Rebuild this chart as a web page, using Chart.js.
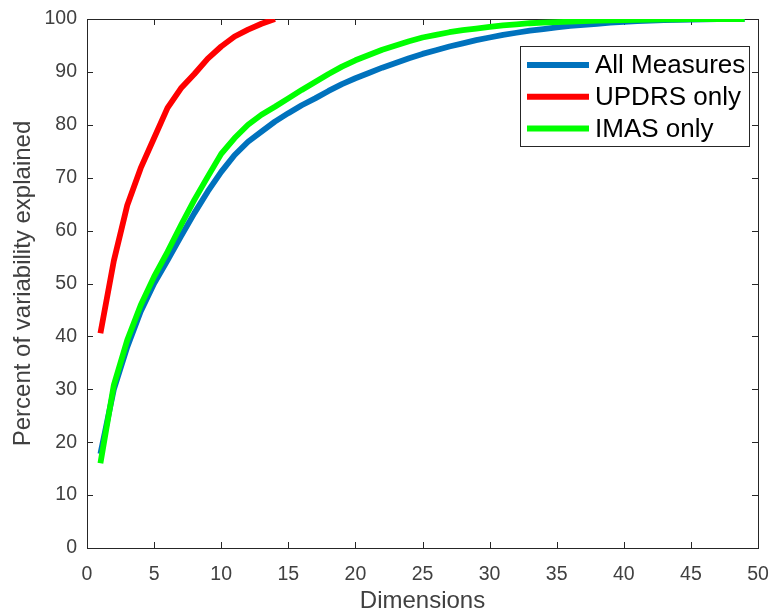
<!DOCTYPE html>
<html>
<head>
<meta charset="utf-8">
<script src="https://cdn.jsdelivr.net/npm/chart.js@4"></script>
<style>
  html, body { margin: 0; padding: 0; background: #fff; }
  #wrap { width: 771px; height: 611px; }
</style>
</head>
<body>
<div id="wrap"><canvas id="pcaChart" width="771" height="611"></canvas></div>
<script>
// dimensions (x) for each series
const dimsAll = [1,2,3,4,5,6,7,8,9,10,11,12,13,14,15,16,17,18,19,20,21,22,23,24,25,
                 26,27,28,29,30,31,32,33,34,35,36,37,38,39,40,41,42,43,44,45,46,47,48,49];
const dimsUpdrs = [1,2,3,4,5,6,7,8,9,10,11,12,13,14];
const dimsImas = dimsAll;

// cumulative percent of variability explained
const allMeasures = [17.8,30.0,38.0,44.7,50.0,54.4,58.9,63.3,67.4,71.1,74.3,76.8,78.7,80.6,82.2,
                     83.7,85.0,86.4,87.7,88.8,89.8,90.8,91.7,92.6,93.4,94.1,94.8,95.4,96.0,96.5,
                     97.0,97.4,97.8,98.1,98.4,98.7,98.9,99.1,99.3,99.45,99.6,99.7,99.8,99.85,99.9,
                     99.95,100,100,100];
const updrsOnly = [40.6,54.3,64.8,71.8,77.5,83.2,86.9,89.6,92.5,94.8,96.7,98.0,99.1,100];
const imasOnly = [16.0,30.8,39.3,45.9,51.3,56.0,61.0,65.8,70.2,74.5,77.5,80.0,81.9,83.4,85.0,
                  86.6,88.1,89.6,91.0,92.2,93.2,94.2,95.0,95.8,96.5,97.0,97.5,97.9,98.2,98.5,
                  98.8,99.0,99.2,99.3,99.4,99.5,99.6,99.7,99.75,99.8,99.85,99.9,99.92,99.95,99.97,
                  99.98,100,100,100];

const seriesNames = ['All Measures', 'UPDRS only', 'IMAS only'];
const seriesColors = ['#0072BD', '#FF0000', '#00FF00'];

const xTicks = [0,5,10,15,20,25,30,35,40,45,50];
const yTicks = [0,10,20,30,40,50,60,70,80,90,100];

const FONT = '"Liberation Sans", Arial, Helvetica, sans-serif';
const AXIS_COLOR = '#262626';

const toPoints = (xs, ys) => xs.map((x, i) => ({x: x, y: ys[i]})).filter(p => p.y !== undefined);

// box + inward ticks on all four sides, MATLAB style
const framePlugin = {
    id: 'frame',
    beforeDatasetsDraw(chart) {
        const {ctx, chartArea: a, scales} = chart;
        const len = 6;
        ctx.save();
        ctx.strokeStyle = AXIS_COLOR;
        ctx.lineWidth = 1;
        ctx.beginPath();
        xTicks.forEach(v => {
            const px = Math.round(scales.x.getPixelForValue(v)) + 0.5;
            ctx.moveTo(px, a.bottom); ctx.lineTo(px, a.bottom - len);
            ctx.moveTo(px, a.top); ctx.lineTo(px, a.top + len);
        });
        yTicks.forEach(v => {
            const py = Math.round(scales.y.getPixelForValue(v)) + 0.5;
            ctx.moveTo(a.left, py); ctx.lineTo(a.left + len, py);
            ctx.moveTo(a.right, py); ctx.lineTo(a.right - len, py);
        });
        ctx.stroke();
        ctx.strokeRect(Math.round(a.left) + 0.5, Math.round(a.top) + 0.5,
                       Math.round(a.right - a.left), Math.round(a.bottom - a.top));
        ctx.restore();
    }
};

const legendPlugin = {
    id: 'boxLegend',
    afterDraw(chart) {
        const {ctx, chartArea: a} = chart;
        const boxW = 229, boxH = 100;
        const x0 = a.right - 9 - boxW;
        const y0 = a.top + 27;
        ctx.save();
        ctx.fillStyle = '#fff';
        ctx.fillRect(x0, y0, boxW, boxH);
        ctx.strokeStyle = AXIS_COLOR;
        ctx.lineWidth = 1;
        ctx.strokeRect(Math.round(x0) + 0.5, Math.round(y0) + 0.5, boxW, boxH);
        ctx.font = '26px ' + FONT;
        ctx.textBaseline = 'middle';
        chart.data.datasets.forEach((ds, i) => {
            const cy = y0 + 19 + i * 31.7;
            ctx.strokeStyle = ds.borderColor;
            ctx.lineWidth = 6;
            ctx.beginPath();
            ctx.moveTo(x0 + 7, cy);
            ctx.lineTo(x0 + 69, cy);
            ctx.stroke();
            ctx.fillStyle = '#000';
            ctx.fillText(ds.label, x0 + 75, cy + 1);
        });
        ctx.restore();
    }
};

const context = document.getElementById('pcaChart');
const chart = new Chart(context, {
    type: 'line',
    data: {
        datasets: [
            {label: seriesNames[0], data: toPoints(dimsAll, allMeasures), borderColor: seriesColors[0], order: 3},
            {label: seriesNames[1], data: toPoints(dimsUpdrs, updrsOnly), borderColor: seriesColors[1], order: 2},
            {label: seriesNames[2], data: toPoints(dimsImas, imasOnly), borderColor: seriesColors[2], order: 1}
        ].map(ds => Object.assign(ds, {
            borderWidth: 5.8,
            pointRadius: 0,
            tension: 0,
            fill: false,
            borderCapStyle: 'butt',
            borderJoinStyle: 'round'
        }))
    },
    options: {
        responsive: false,
        animation: {duration: 0},
        layout: {padding: {top: 19, right: 13, left: 0, bottom: 0}},
        plugins: {legend: {display: false}, tooltip: {enabled: false}},
        scales: {
            x: {
                type: 'linear',
                min: 0, max: 50,
                afterBuildTicks: s => { s.ticks = xTicks.map(v => ({value: v})); },
                afterFit: s => { s.height = 63; s.paddingLeft = 0; s.paddingRight = 0; },
                grid: {display: false, drawTicks: false, tickLength: 0},
                border: {display: false},
                ticks: {color: '#404040', font: {family: FONT, size: 19.5}, padding: 15, maxRotation: 0},
                title: {display: true, text: 'Dimensions', color: '#404040',
                        font: {family: FONT, size: 24, lineHeight: 0.8}, padding: {top: 0, bottom: 0}}
            },
            y: {
                min: 0, max: 100,
                afterBuildTicks: s => { s.ticks = yTicks.map(v => ({value: v})); },
                afterFit: s => { s.width = 87; s.paddingTop = 0; s.paddingBottom = 0; },
                grid: {display: false, drawTicks: false, tickLength: 0},
                border: {display: false},
                ticks: {color: '#404040', font: {family: FONT, size: 19.5}, padding: 10},
                title: {display: true, text: 'Percent of variability explained', color: '#404040',
                        font: {family: FONT, size: 24, lineHeight: 1}, padding: {top: 11, bottom: 0}}
            }
        }
    },
    plugins: [framePlugin, legendPlugin]
});
</script>
</body>
</html>
